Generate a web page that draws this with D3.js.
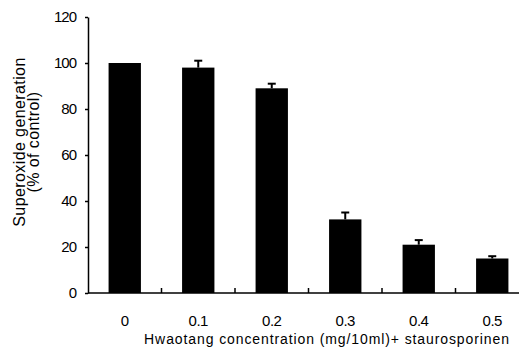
<!DOCTYPE html>
<html>
<head>
<meta charset="utf-8">
<script src="https://cdn.jsdelivr.net/npm/d3@7"></script>
<style>
  html, body { margin: 0; padding: 0; background: #fff; }
  svg { display: block; }
  text { font-family: "Liberation Sans", Arial, sans-serif; fill: #000; }
</style>
</head>
<body>
<svg id="chart"></svg>
<script>
// superoxide generation vs hwaotang concentration (+ staurosporine)
const categories = ['0', '0.1', '0.2', '0.3', '0.4', '0.5'];
const values = [100, 98, 89, 32, 21, 15];
const errors = [0, 3, 2, 3, 2, 1];
const yTicks = [0, 20, 40, 60, 80, 100, 120];

const width = 519, height = 354;
const margin = { left: 88, top: 17, bottom: 61 };

const svg = d3.select('#chart').attr('width', width).attr('height', height);

const x = d3.scaleBand()
  .domain(categories)
  .range([margin.left, margin.left + 441])
  .paddingInner(0.56)
  .paddingOuter(0.28);

const y = d3.scaleLinear()
  .domain([0, 120])
  .range([height - margin.bottom, margin.top]);

// bars
svg.append('g').selectAll('rect')
  .data(values)
  .join('rect')
  .attr('x', (d, i) => x(categories[i]))
  .attr('y', d => y(d))
  .attr('width', x.bandwidth())
  .attr('height', d => y(0) - y(d))
  .attr('fill', '#000');

// error bars (upper only)
const eb = svg.append('g').attr('stroke', '#000').attr('stroke-width', 2);
values.forEach((v, i) => {
  if (!errors[i]) return;
  const cx = x(categories[i]) + x.bandwidth() / 2;
  eb.append('line').attr('x1', cx).attr('x2', cx).attr('y1', y(v)).attr('y2', y(v + errors[i]));
  eb.append('line').attr('x1', cx - 4).attr('x2', cx + 4).attr('y1', y(v + errors[i])).attr('y2', y(v + errors[i]));
});

// y axis
const yAxis = svg.append('g')
  .attr('transform', `translate(${margin.left},0)`)
  .call(d3.axisLeft(y).tickValues(yTicks).tickSize(3).tickPadding(9).tickSizeOuter(0));
yAxis.select('.domain').attr('stroke', '#000').attr('stroke-width', 1.5);
yAxis.selectAll('.tick line').attr('stroke', '#000').attr('stroke-width', 1.5);
yAxis.selectAll('.tick text')
  .attr('font-family', '"Liberation Sans", Arial, sans-serif')
  .attr('font-size', 15).attr('letter-spacing', '-1px').attr('fill', '#000');

// x axis: ticks sit between bars and point up
const bounds = d3.range(1, categories.length).map(i => x.range()[0] + i * x.step());
const xg = svg.append('g');
xg.append('line')
  .attr('x1', margin.left).attr('x2', width)
  .attr('y1', y(0)).attr('y2', y(0))
  .attr('stroke', '#000').attr('stroke-width', 1.5);
xg.selectAll('line.tk')
  .data(bounds)
  .join('line')
  .attr('class', 'tk')
  .attr('x1', d => d).attr('x2', d => d)
  .attr('y1', y(0)).attr('y2', y(0) - 5)
  .attr('stroke', '#000').attr('stroke-width', 1.5);
xg.selectAll('text')
  .data(categories)
  .join('text')
  .attr('x', d => x(d) + x.bandwidth() / 2)
  .attr('y', 326)
  .attr('text-anchor', 'middle')
  .attr('font-size', 15)
  .attr('letter-spacing', '-0.5px')
  .text(d => d);

// axis titles
svg.append('text')
  .attr('x', 327).attr('y', 344)
  .attr('text-anchor', 'middle')
  .attr('font-size', 14)
  .attr('letter-spacing', '0.9px')
  .text('Hwaotang concentration (mg/10ml)+ staurosporinen');

const yt = svg.append('text')
  .attr('transform', 'translate(0,142) rotate(-90)')
  .attr('text-anchor', 'middle')
  .attr('font-size', 16)
  .attr('letter-spacing', '0.4px');
yt.append('tspan').attr('x', 0).attr('y', 25).text('Superoxide generation');
yt.append('tspan').attr('x', 0).attr('y', 39).text('(% of control)');
</script>
</body>
</html>
